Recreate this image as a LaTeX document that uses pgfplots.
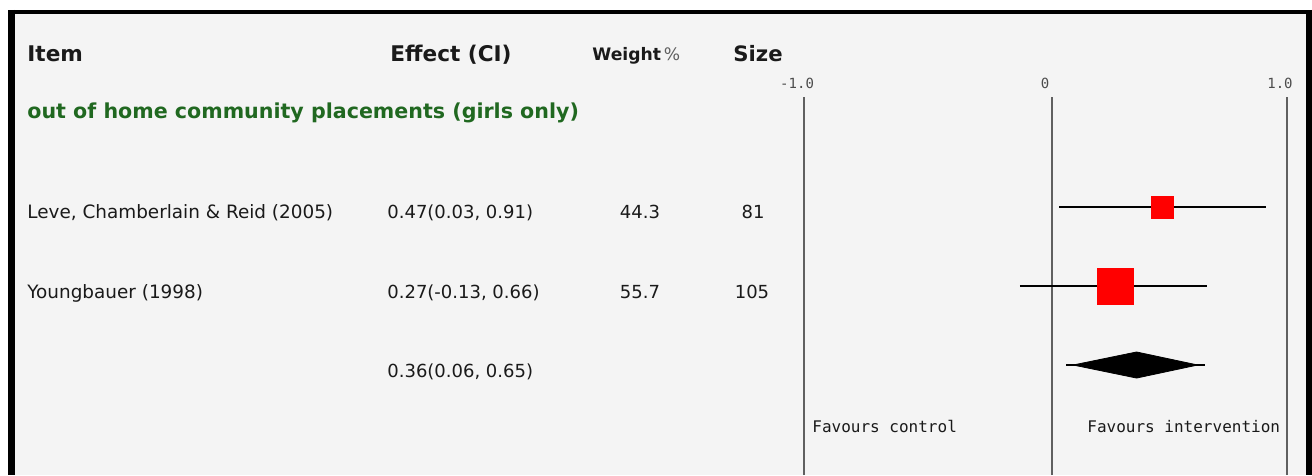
\documentclass[border=0pt]{standalone}
\usepackage{pgfplots}
\pgfplotsset{compat=1.18}
\usepackage{fontspec}
\setmainfont{DejaVu Sans}
\newfontfamily\mono{DejaVu Sans Mono}
\definecolor{bgc}{HTML}{F4F4F4}
\definecolor{grn}{RGB}{32,104,32}
\definecolor{txt}{HTML}{1A1A1A}
\definecolor{vline}{HTML}{606060}
\begin{document}
\begin{tikzpicture}
\begin{scope}[x=0.5pt,y=-0.5pt]
\path[use as bounding box] (0,0) rectangle (1312,475);
\fill[white] (0,0) rectangle (1312,475);
\fill[bgc] (8,10) rectangle (1312,475);
\draw[black, line width=3.5pt] (11.5,10) -- (11.5,475);
\draw[black, line width=2pt] (8,12) -- (1312,12);
\draw[black, line width=3pt] (1309,10) -- (1309,475);
\coordinate (axsw) at (700,475);
\begin{scope}[every node/.style={inner sep=0pt, text=txt}]
% headers
\node[anchor=base west, font=\fontsize{10.8}{12}\selectfont\bfseries] at (27,62) {Item};
\node[anchor=base west, font=\fontsize{10.8}{12}\selectfont\bfseries] at (390,62) {Effect (CI)};
\node[anchor=base west, font=\fontsize{8.6}{10}\selectfont] at (592,61) {\textbf{Weight}\,\textcolor{txt!70}{\%}};
\node[anchor=base west, font=\fontsize{10.6}{12}\selectfont\bfseries] at (733,62) {Size};
\node[anchor=base west, font=\fontsize{10.3}{12}\selectfont\bfseries, text=grn] at (27,119) {out of home community placements (girls only)};
% rows
\node[anchor=base west, font=\fontsize{9.2}{11}\selectfont] at (27,218) {Leve, Chamberlain \& Reid (2005)};
\node[anchor=base west, font=\fontsize{9}{11}\selectfont] at (387,218) {0.47(0.03, 0.91)};
\node[anchor=base, font=\fontsize{9}{11}\selectfont] at (640,218) {44.3};
\node[anchor=base, font=\fontsize{9}{11}\selectfont] at (753,218) {81};
\node[anchor=base west, font=\fontsize{9.2}{11}\selectfont] at (27,298) {Youngbauer (1998)};
\node[anchor=base west, font=\fontsize{9}{11}\selectfont] at (387,298) {0.27(-0.13, 0.66)};
\node[anchor=base, font=\fontsize{9}{11}\selectfont] at (640,298) {55.7};
\node[anchor=base, font=\fontsize{9}{11}\selectfont] at (752,298) {105};
\node[anchor=base west, font=\fontsize{9}{11}\selectfont] at (387,377) {0.36(0.06, 0.65)};
\node[anchor=base west, font=\mono\fontsize{8}{9}\selectfont] at (812,432) {Favours control};
\node[anchor=base west, font=\mono\fontsize{8}{9}\selectfont] at (1087,432) {Favours intervention};
\end{scope}
\end{scope}
\begin{axis}[
  at={(axsw)}, anchor=south west,
  scale only axis, width=302.5pt, height=189pt,
  x coord trafo/.code={\pgfmathparse{ifthenelse(#1<0,#1*1.055,#1)}},
  xmin=-1.4198, xmax=1.0766, ymin=-0.392, ymax=4.392,
  axis line style={draw=none},
  xtick={-1,0,1}, xticklabels={-1.0,0,1.0},
  xticklabel pos=upper,
  major tick length=0pt,
  ytick=\empty,
  xmajorgrids, grid style={vline, line width=1pt},
  xticklabel style={font=\mono\fontsize{7}{8}\selectfont, text=black!70, inner sep=0pt, anchor=south, xshift=-3.5pt, yshift=4pt},
  clip=false,
]
\addplot[only marks, mark=square*, mark size=5.5pt, red, mark options={draw=red, fill=red}] coordinates {(0.47,3)};
\addplot[only marks, mark=square*, mark size=9pt, red, mark options={draw=red, fill=red}] coordinates {(0.27,2)};
\addplot[black, line width=1pt] coordinates {(0.03,3) (0.91,3)};
\addplot[black, line width=1pt] coordinates {(-0.13,2) (0.66,2)};
\addplot[black, line width=1pt] coordinates {(0.06,1) (0.65,1)};
\addplot[fill=black, draw=black, line width=0.4pt] coordinates {(0.09,1) (0.36,1.165) (0.62,1) (0.36,0.835)} -- cycle;
\end{axis}
\end{tikzpicture}
\end{document}
